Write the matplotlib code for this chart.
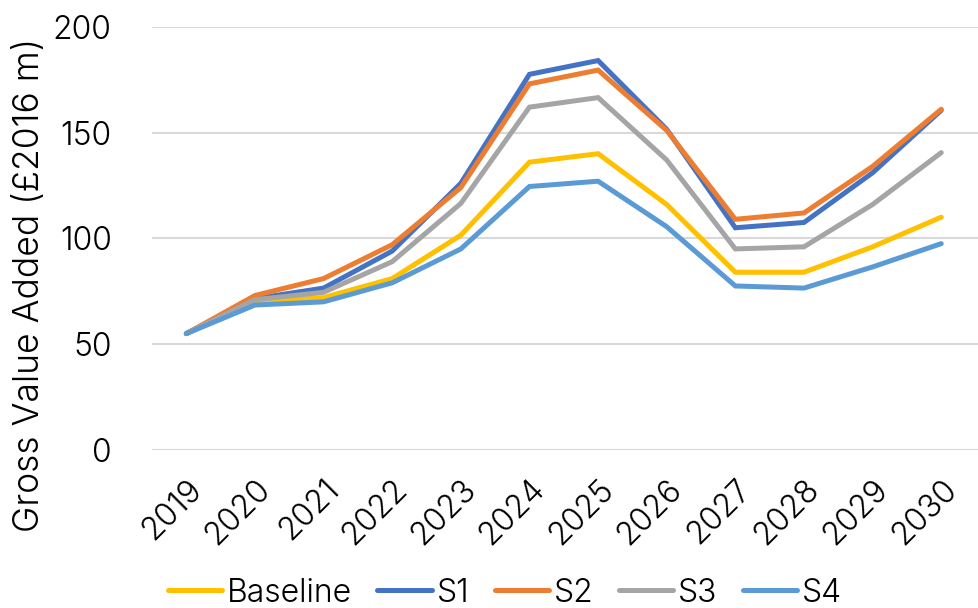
import matplotlib
matplotlib.use("Agg")
import matplotlib.pyplot as plt

years = ["2019", "2020", "2021", "2022", "2023", "2024", "2025",
         "2026", "2027", "2028", "2029", "2030"]
baseline = [55, 70, 72, 81, 101.5, 136, 140, 116, 84, 84, 96, 110]
s1 = [55, 71.5, 76.5, 94, 126, 177.5, 184, 151.5, 105, 107.5, 131, 160.5]
s2 = [55, 73, 81, 97, 124, 173, 179.5, 151, 109, 112, 134, 161]
s3 = [55, 71, 74.5, 89, 116.5, 162, 166.5, 137, 95, 96, 116, 140.5]
s4 = [55, 68.5, 70, 79, 95, 124.5, 127, 105.5, 77.5, 76.5, 86.5, 97.5]

series = [("Baseline", baseline, "#FFC000"),
          ("S1", s1, "#4472C4"),
          ("S2", s2, "#ED7D31"),
          ("S3", s3, "#A5A5A5"),
          ("S4", s4, "#5B9BD5")]

plt.rcParams["font.family"] = ["Inter", "DejaVu Sans"]
FW = 300
FS = 23

fig = plt.figure(figsize=(9.79, 6.08), dpi=100)
W, H = 979, 608
left, right, top, bottom = 152, 979, 26.7, 450
ax = fig.add_axes([left / W, 1 - bottom / H, (right - left) / W, (bottom - top) / H])

x = list(range(len(years)))
for name, vals, col in series:
    ax.plot(x, vals, color=col, lw=3.6, label=name, solid_capstyle="round",
            solid_joinstyle="miter")

ax.set_xlim(-0.5, len(years) - 0.5 + 0.05)
ax.set_ylim(0, 200)
ax.set_yticks([0, 50, 100, 150, 200])
ax.set_xticks(x)
ax.set_xticklabels(years, rotation=45, ha="right", rotation_mode="anchor")
ax.tick_params(axis="both", length=0, labelsize=FS, labelcolor="#000000")
ax.tick_params(axis="y", pad=29)
ax.tick_params(axis="x", pad=17)
for lab in ax.get_xticklabels() + ax.get_yticklabels():
    lab.set_fontweight(FW)

ax.grid(axis="y", color="#D9D9D9", lw=1.5)
ax.set_axisbelow(True)
for sp in ax.spines.values():
    sp.set_visible(False)

fig.text(30 / W, 1 - 285 / H, "Gross Value Added (£2016 m)", rotation=90,
         ha="center", va="center", fontsize=25.5, fontweight=FW, color="#000000")

leg = fig.legend(loc="center", bbox_to_anchor=(505 / W, 1 - 593 / H), ncol=5,
                 frameon=False, fontsize=FS, handlelength=1.7, handletextpad=0.15,
                 columnspacing=0.8)
for t in leg.get_texts():
    t.set_fontweight(FW)

fig.savefig("out.png", dpi=100)
